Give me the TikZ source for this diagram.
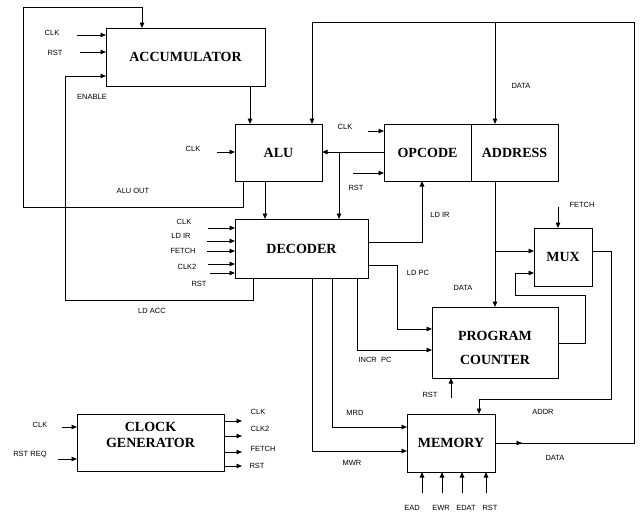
\documentclass[tikz,border=0pt]{standalone}
\usepackage{fontspec}
\setmainfont{Liberation Serif}
\newfontfamily\lblfont{Liberation Sans}
\usetikzlibrary{arrows.meta}
\begin{document}
\begin{tikzpicture}[x=1pt,y=-1pt,
  blk/.style={draw,line width=0.9pt,inner sep=0pt,outer sep=0pt,align=center,font=\bfseries\fontsize{14}{15}\selectfont},
  btxt/.style={inner sep=0pt,align=center,font=\bfseries\fontsize{14}{15}\selectfont},
  lbl/.style={inner sep=0pt,font=\lblfont\fontsize{7.5}{8}\selectfont},
  wire/.style={line width=0.9pt},
  arr/.style={line width=0.9pt,-{Triangle[length=5.5pt,width=4.5pt]}}]
\useasboundingbox (0,0) rectangle (640,512);
% blocks
\node[blk,minimum width=159pt,minimum height=58pt] (acc) at (185.5,57) {ACCUMULATOR};
\node[blk,minimum width=87pt,minimum height=57pt] (alu) at (278.5,152.5) {ALU};
\node[blk,minimum width=87pt,minimum height=57pt] (op) at (427.5,152.5) {OPCODE};
\node[blk,minimum width=87pt,minimum height=57pt] (addr) at (514.5,152.5) {ADDRESS};
\node[blk,minimum width=133pt,minimum height=59pt] (dec) at (301.5,248.5) {DECODER};
\node[blk,minimum width=58pt,minimum height=58pt] (mux) at (563,257) {MUX};
\node[blk,minimum width=126pt,minimum height=71pt] (pc) at (495,342.5) {};
\node[btxt] (pct) at (495,348) {PROGRAM\\[9pt]COUNTER};
\node[blk,minimum width=88pt,minimum height=58pt] (mem) at (451,443) {MEMORY};
\node[blk,minimum width=147pt,minimum height=57pt] (clk) at (150.5,442.5) {};
\node[btxt] (clkt) at (150.5,435) {CLOCK\\[1pt]GENERATOR};
% accumulator inputs
\draw[arr] (77,35) -- (acc.west |- 0,35);
\draw[arr] (80,52) -- (acc.west |- 0,52);
\draw[arr] (253,0 |- dec.south) -- (253,300) -- (65,300) -- (65,76) -- (acc.west |- 0,76);
% accumulator -> ALU
\draw[arr] (250,0 |- acc.south) -- (250,0 |- alu.north);
% ALU out loop
\draw[arr] (243,0 |- alu.south) -- (243,207) -- (23,207) -- (23,7) -- (142,7) -- (142,0 |- acc.north);
% ALU clk
\draw[arr] (217,152) -- (alu.west |- 0,152);
% data bus
\draw[wire] (mem.east |- 0,443) -- (634,443) -- (634,22) -- (312,22);
\draw[arr] (312,22) -- (312,0 |- alu.north);
\draw[arr] (495,22) -- (495,0 |- addr.north);
\draw[arr] (mem.east |- 0,443) -- (522,443);
% opcode
\draw[arr] (368,131) -- (op.west |- 0,131);
\draw[arr] (353,173) -- (op.west |- 0,173);
\draw[arr] (op.west |- 0,152) -- (alu.east |- 0,152);
\draw[arr] (339,152) -- (339,0 |- dec.north);
% ALU -> decoder
\draw[arr] (265,0 |- alu.south) -- (265,0 |- dec.north);
% decoder inputs
\draw[arr] (208,228) -- (dec.west |- 0,228);
\draw[arr] (207,241) -- (dec.west |- 0,241);
\draw[arr] (207,251) -- (dec.west |- 0,251);
\draw[arr] (208,264) -- (dec.west |- 0,264);
\draw[arr] (210,273) -- (dec.west |- 0,273);
% decoder outputs
\draw[arr] (dec.east |- 0,242) -- (422,242) -- (422,0 |- op.south);
\draw[arr] (dec.east |- 0,265) -- (397,265) -- (397,329) -- (pc.west |- 0,329);
\draw[arr] (357,0 |- dec.south) -- (357,350) -- (pc.west |- 0,350);
\draw[arr] (332,0 |- dec.south) -- (332,427) -- (mem.west |- 0,427);
\draw[arr] (312,0 |- dec.south) -- (312,451) -- (mem.west |- 0,451);
% address -> PC, MUX
\draw[arr] (495,0 |- addr.south) -- (495,0 |- pc.north);
\draw[arr] (495,251) -- (mux.west |- 0,251);
\draw[arr] (558,207) -- (558,0 |- mux.north);
\draw[arr] (pc.east |- 0,343) -- (585,343) -- (585,295) -- (515,295) -- (515,273) -- (mux.west |- 0,273);
\draw[arr] (mux.east |- 0,251) -- (611,251) -- (611,399) -- (479,399) -- (479,0 |- mem.north);
\draw[arr] (451,398) -- (451,0 |- pc.south);
% memory inputs
\draw[arr] (422,493) -- (422,0 |- mem.south);
\draw[arr] (442,493) -- (442,0 |- mem.south);
\draw[arr] (462,493) -- (462,0 |- mem.south);
\draw[arr] (486,493) -- (486,0 |- mem.south);
% clock generator
\draw[arr] (62,427) -- (clk.west |- 0,427);
\draw[arr] (58,459) -- (clk.west |- 0,459);
\draw[arr] (clk.east |- 0,421) -- (242,421);
\draw[arr] (clk.east |- 0,436) -- (242,436);
\draw[arr] (clk.east |- 0,452) -- (242,452);
\draw[arr] (clk.east |- 0,466) -- (242,466);
% labels
\node[lbl] (l1) at (52,33) {CLK};
\node[lbl] (l2) at (55,53) {RST};
\node[lbl] (l3) at (92,97) {ENABLE};
\node[lbl] (l4) at (133,191) {ALU OUT};
\node[lbl] (l5) at (193,149) {CLK};
\node[lbl] (l6) at (345,127) {CLK};
\node[lbl] (l7) at (356,188) {RST};
\node[lbl] (l8) at (521,86) {DATA};
\node[lbl] (l9) at (440,215) {LD IR};
\node[lbl] (l10) at (582,205) {FETCH};
\node[lbl] (l11) at (184,222) {CLK};
\node[lbl] (l12) at (181,236) {LD IR};
\node[lbl] (l13) at (183,251) {FETCH};
\node[lbl] (l14) at (187,267) {CLK2};
\node[lbl] (l15) at (199,284) {RST};
\node[lbl] (l16) at (418,273) {LD PC};
\node[lbl] (l17) at (463,288) {DATA};
\node[lbl] (l18) at (152,311) {LD ACC};
\node[lbl] (l19) at (375,360) {INCR\ \ PC};
\node[lbl] (l20) at (430,395) {RST};
\node[lbl] (l21) at (543,412) {ADDR};
\node[lbl] (l22) at (355,413) {MRD};
\node[lbl] (l23) at (352,463) {MWR};
\node[lbl] (l24) at (555,458) {DATA};
\node[lbl] (l25) at (40,425) {CLK};
\node[lbl] (l26) at (30,455) {RST REQ};
\node[lbl] (l27) at (258,412) {CLK};
\node[lbl] (l28) at (260,429) {CLK2};
\node[lbl] (l29) at (263,449) {FETCH};
\node[lbl] (l30) at (257,466) {RST};
\node[lbl] (l31) at (412,508) {EAD};
\node[lbl] (l32) at (441,508) {EWR};
\node[lbl] (l33) at (466,508) {EDAT};
\node[lbl] (l34) at (490,508) {RST};
\end{tikzpicture}
\end{document}
